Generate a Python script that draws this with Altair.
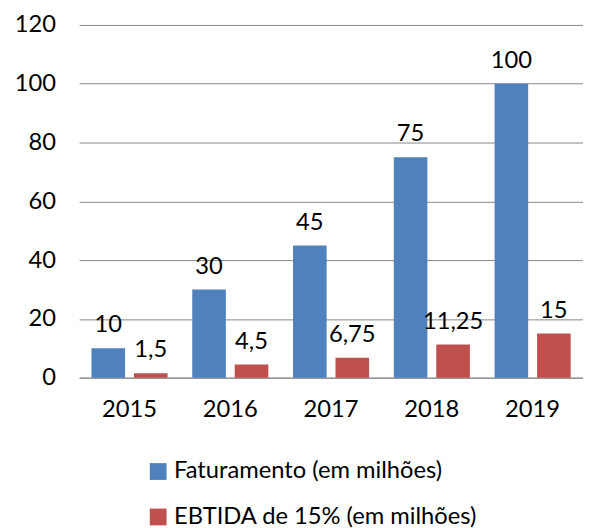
import altair as alt
import pandas as pd

years = ["2015", "2016", "2017", "2018", "2019"]
faturamento = [10, 30, 45, 75, 100]
ebtida = [1.5, 4.5, 6.75, 11.25, 15]
series_names = ["Faturamento (em milhões)", "EBTIDA de 15% (em milhões)"]
colors = ["#4F81BD", "#C0504D"]
y_ticks = [0, 20, 40, 60, 80, 100, 120]

def fmt(v):
    s = ("%g" % v).replace(".", ",")
    return s

rows = []
for i, y in enumerate(years):
    rows.append({"ano": y, "serie": series_names[0], "valor": faturamento[i], "rotulo": fmt(faturamento[i])})
    rows.append({"ano": y, "serie": series_names[1], "valor": ebtida[i], "rotulo": fmt(ebtida[i])})
df = pd.DataFrame(rows)

FONT = "Lato"
FS = 24

x_enc = alt.X("ano:N", title=None,
              scale=alt.Scale(paddingInner=0.245, paddingOuter=0.1225),
              axis=alt.Axis(labelAngle=0, ticks=False, domain=True, domainColor="#868686",
                            labelPadding=20, labelFontSize=FS, labelFont=FONT, labelColor="#000000",
                            labelFontWeight="normal"))
xo_enc = alt.XOffset("serie:N", sort=series_names,
                     scale=alt.Scale(paddingInner=0.209, paddingOuter=0))
y_enc = alt.Y("valor:Q", title=None,
              scale=alt.Scale(domain=[0, 120], nice=False),
              axis=alt.Axis(values=y_ticks, ticks=False, domain=False, grid=True,
                            gridColor="#868686", gridWidth=1, labelPadding=24,
                            labelFontSize=FS, labelFont=FONT, labelColor="#000000"))

bars = alt.Chart(df).mark_bar().encode(
    x=x_enc, xOffset=xo_enc, y=y_enc,
    color=alt.Color("serie:N", sort=series_names,
                    scale=alt.Scale(domain=series_names, range=colors),
                    legend=alt.Legend(title=None, orient="none", legendX=68, legendY=440,
                                      direction="vertical", symbolType="square", symbolSize=289,
                                      symbolStrokeWidth=0, symbolOpacity=1, labelLimit=0,
                                      labelFontSize=FS, labelFont=FONT, labelColor="#000000",
                                      rowPadding=22, labelOffset=4)),
)

text = alt.Chart(df).mark_text(baseline="bottom", dy=-11, font=FONT, fontSize=FS, color="#000000").encode(
    x=alt.X("ano:N"), xOffset=alt.XOffset("serie:N", sort=series_names), y=alt.Y("valor:Q"),
    text="rotulo:N",
)

chart = alt.layer(bars, text).properties(
    width=510, height=357,
    autosize=alt.AutoSizeParams(type="none"),
    padding={"left": 72, "top": 14, "right": 0, "bottom": 149},
).configure_view(stroke=None).configure_axis(gridDash=[])

chart.save("out.html", embed_options={"renderer": "svg", "actions": False})
